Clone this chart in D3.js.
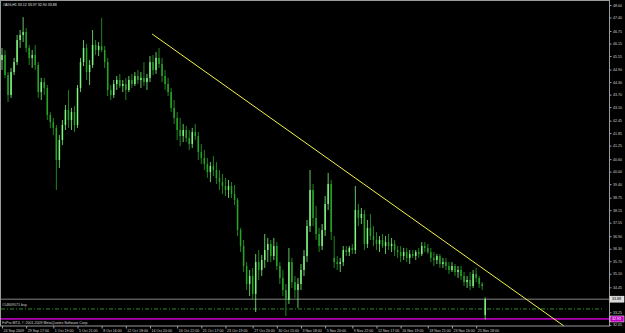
<!DOCTYPE html>
<html>
<head>
<meta charset="utf-8">
<script src="https://cdn.jsdelivr.net/npm/d3@7"></script>
<style>
html, body { margin: 0; padding: 0; background: #000; }
svg { display: block; }
text { font-family: "Liberation Sans", Arial, sans-serif; }
</style>
</head>
<body>
<div id="chart"></div>
<script>
// bars (one per slot)
var openP = [45.36,45.60,44.64,43.68,44.78,45.26,46.32,46.56,46.70,45.94,
45.46,45.60,45.12,43.82,44.30,44.02,42.72,42.38,42.10,40.56,
41.52,42.24,42.96,42.48,42.86,42.24,44.02,45.26,45.94,44.78,
45.12,46.08,45.84,46.03,45.84,45.26,43.92,43.68,44.21,44.40,
44.11,44.21,43.92,44.40,44.21,44.59,44.40,44.50,44.30,44.50,
45.26,44.88,45.46,45.17,44.59,44.21,43.82,43.06,42.58,42.00,
41.71,42.00,41.62,41.33,41.90,41.71,40.94,40.66,40.37,39.98,
40.27,40.08,39.70,39.50,39.31,39.12,39.31,38.93,38.64,37.20,
36.43,35.47,34.61,34.99,34.13,35.66,35.28,35.76,36.24,36.53,
35.95,36.43,35.47,34.90,34.32,33.84,35.66,34.70,34.32,34.61,
35.28,35.95,37.39,39.12,37.78,37.01,36.43,37.20,38.45,39.41,
35.86,35.66,35.57,35.66,36.24,36.14,36.34,36.24,38.16,37.78,
37.97,36.53,37.30,36.91,36.72,36.53,36.72,36.43,36.62,36.43,
36.53,36.24,36.14,35.95,36.14,35.86,36.05,35.95,36.14,36.05,
36.43,36.34,36.14,35.86,35.76,35.95,35.57,35.66,35.47,35.28,
35.47,35.18,35.28,34.99,34.70,34.80,34.51,35.09,34.90,34.61,
33.12];
var highP = [45.94,45.84,44.78,44.98,45.46,46.56,46.80,47.42,46.90,46.08,
45.84,46.08,45.26,44.50,44.50,44.16,42.86,42.58,42.24,41.76,
42.48,43.20,43.92,43.06,43.15,44.16,45.46,46.32,46.13,45.36,
46.80,46.32,46.22,47.38,46.03,45.46,44.16,44.40,44.59,44.69,
44.40,44.50,44.59,44.69,44.78,44.88,44.78,45.26,44.69,45.55,
45.60,45.74,45.94,45.46,44.88,44.50,44.02,43.44,42.86,42.58,
42.29,42.19,42.00,42.10,42.29,41.90,41.33,41.04,40.66,40.46,
40.75,40.46,40.08,39.89,39.70,39.60,39.50,39.36,38.74,37.30,
36.72,35.66,35.28,35.38,36.05,36.24,36.00,37.01,36.82,36.72,
36.82,36.62,35.66,35.28,34.61,36.34,35.86,34.99,34.90,35.57,
36.24,37.68,40.08,39.41,38.35,37.30,37.49,38.83,39.94,39.60,
36.91,35.95,35.86,36.43,36.43,36.43,36.53,39.31,38.45,38.26,
38.16,37.68,37.97,37.39,37.10,36.91,37.01,36.91,37.01,36.82,
36.72,36.43,36.43,36.34,36.34,36.24,36.24,36.24,36.34,36.62,
36.62,36.53,36.34,36.14,36.05,36.05,35.86,35.86,35.66,35.66,
35.57,35.47,35.47,35.18,34.99,35.18,35.28,35.38,34.99,34.70,
33.97];
var lowP = [44.88,44.50,43.34,43.54,44.64,45.12,45.94,46.22,45.74,45.12,
44.98,44.88,43.54,43.44,43.68,42.48,42.10,41.76,39.12,40.18,
41.28,42.00,42.10,42.00,41.90,42.10,43.82,45.07,44.40,44.16,
44.98,45.60,45.55,45.74,44.98,43.63,43.44,43.54,43.92,44.02,
43.82,43.44,43.82,44.02,44.11,44.21,44.02,44.11,43.92,44.30,
44.64,44.69,44.98,44.30,43.92,43.63,42.86,42.29,41.52,41.23,
41.42,41.42,41.04,41.14,41.52,40.56,40.37,40.08,39.70,39.50,
39.79,39.41,39.12,38.93,38.83,38.74,38.74,38.40,36.91,36.14,
35.18,34.32,34.03,33.84,33.26,34.80,34.99,35.38,35.66,35.66,
35.76,35.28,34.61,34.03,33.07,33.65,34.42,33.94,33.46,34.32,
34.99,35.66,37.10,37.39,36.72,36.14,36.24,36.91,38.16,36.72,
35.38,35.28,35.18,35.47,35.95,35.95,36.05,36.05,37.39,37.49,
36.24,36.34,36.72,36.43,36.24,36.14,36.34,36.05,36.24,36.14,
35.95,35.86,35.66,35.76,35.66,35.57,35.86,35.76,35.86,35.95,
36.14,36.05,35.66,35.47,35.57,35.38,35.38,35.28,35.09,35.18,
34.99,34.90,34.80,34.51,34.42,34.32,34.42,34.70,34.42,34.32,
32.90];
var closeP = [45.60,44.64,43.68,44.78,45.26,46.32,46.56,46.70,45.94,45.46,
45.60,45.12,43.82,44.30,44.02,42.72,42.38,42.10,40.56,41.52,
42.24,42.96,42.48,42.86,42.24,44.02,45.26,45.94,44.78,45.12,
46.08,45.84,46.03,45.84,45.26,43.92,43.68,44.21,44.40,44.11,
44.21,43.92,44.40,44.21,44.59,44.40,44.50,44.30,44.50,45.26,
44.88,45.46,45.17,44.59,44.21,43.82,43.06,42.58,42.00,41.71,
42.00,41.62,41.33,41.90,41.71,40.94,40.66,40.37,39.98,40.27,
40.08,39.70,39.50,39.31,39.12,39.31,38.93,38.64,37.20,36.43,
35.47,34.61,34.99,34.13,35.66,35.28,35.76,36.24,36.53,35.95,
36.43,35.47,34.90,34.32,33.84,35.66,34.70,34.32,34.61,35.28,
35.95,37.39,39.12,37.78,37.01,36.43,37.20,38.45,39.41,37.10,
35.66,35.57,35.66,36.24,36.14,36.34,36.24,38.16,37.78,37.97,
36.53,37.30,36.91,36.72,36.53,36.72,36.43,36.62,36.43,36.53,
36.24,36.14,35.95,36.14,35.86,36.05,35.95,36.14,36.05,36.43,
36.34,36.14,35.86,35.76,35.95,35.57,35.66,35.47,35.28,35.47,
35.18,35.28,34.99,34.70,34.80,34.51,35.09,34.90,34.61,34.51,
33.88];

// axis labels
var priceTicks = [48.00,47.40,46.75,46.15,45.55,44.90,44.30,43.70,43.10,42.45,41.85,41.25,40.60,
  40.00,39.40,38.75,38.15,37.55,36.90,36.30,35.70,35.10,34.45,33.85,33.25,32.65];
var timeTickIndex = [0,8,17,25,33,41,49,58,66,74,83,91,99,107,116,124,132,141,149,157];
var timeLabels = ["24 Sep 2009","29 Sep 17:00","1 Oct 19:00","5 Oct 21:00","8 Oct 16:00","12 Oct 18:00",
  "14 Oct 20:00","16 Oct 22:00","21 Oct 17:00","23 Oct 19:00","27 Oct 20:00","30 Oct 15:00",
  "3 Nov 18:00","5 Nov 20:00","9 Nov 22:00","12 Nov 17:00","16 Nov 19:00","18 Nov 21:00",
  "23 Nov 16:00","25 Nov 18:00"];

// levels and the trend line
var bidPrice = 33.88;
var orderPrice = 33.41;
var stopPrice = 32.93;
var trendIndex = [49.7, 186.1];
var trendPrice = [46.61, 32.59];

var titleText = "#AIG,H1  33.12 33.97 32.90 33.88";
var orderText = "#14809571 buy";
var copyText = "FxPro MT4, \u00a9 2001-2009 MetaQuotes Software Corp.";

var width = 625, height = 333;
var plotRight = 609.5, plotBottom = 326;

var svg = d3.select("#chart").append("svg").attr("width", width).attr("height", height);
svg.append("rect").attr("width", width).attr("height", height).attr("fill", "#000");

var xScale = d3.scaleLinear().domain([0, 200]).range([2, 606]);
var yScale = d3.scaleLinear().domain([33.25, 48.00]).range([312.3, 5]);

svg.append("defs").append("clipPath").attr("id", "plot")
  .append("rect").attr("x", 1).attr("y", 1).attr("width", plotRight - 1).attr("height", plotBottom - 1);

var plot = svg.append("g").attr("clip-path", "url(#plot)");

// frame
svg.append("rect")
  .attr("x", 0.5).attr("y", 0.5)
  .attr("width", plotRight - 0.5).attr("height", plotBottom - 0.5)
  .attr("fill", "none").attr("stroke", "#9a9a9a").attr("stroke-width", 1);

// horizontal levels
plot.append("line")
  .attr("x1", 1).attr("x2", plotRight)
  .attr("y1", yScale(bidPrice)).attr("y2", yScale(bidPrice))
  .attr("stroke", "#a8a8a8").attr("stroke-width", 0.8);

plot.append("line")
  .attr("x1", 1).attr("x2", 604)
  .attr("y1", yScale(orderPrice)).attr("y2", yScale(orderPrice))
  .attr("stroke", "#2fa02f").attr("stroke-width", 0.9)
  .attr("stroke-dasharray", "4,2,1,2");

plot.append("line")
  .attr("x1", 1).attr("x2", plotRight)
  .attr("y1", yScale(stopPrice)).attr("y2", yScale(stopPrice))
  .attr("stroke", "#b000b0").attr("stroke-width", 1.8);

// candles
var bars = d3.range(closeP.length).map(function(i) {
  return { i: i, o: openP[i], h: highP[i], l: lowP[i], c: closeP[i] };
});

function barColor(d) { return d.c >= d.o ? "#7ef57e" : "#26a626"; }

plot.append("g").selectAll("line")
  .data(bars)
  .enter()
  .append("line")
  .attr("x1", function(d) { return xScale(d.i); })
  .attr("x2", function(d) { return xScale(d.i); })
  .attr("y1", function(d) { return yScale(d.h); })
  .attr("y2", function(d) { return yScale(d.l); })
  .attr("stroke", barColor)
  .attr("stroke-width", 0.8);

plot.append("g").selectAll("rect")
  .data(bars)
  .enter()
  .append("rect")
  .attr("x", function(d) { return xScale(d.i) - 0.75; })
  .attr("width", 1.5)
  .attr("y", function(d) { return yScale(Math.max(d.o, d.c)); })
  .attr("height", function(d) { return Math.max(0.8, Math.abs(yScale(d.o) - yScale(d.c))); })
  .attr("fill", barColor);

// trend line
var trend = d3.line()
  .x(function(d) { return xScale(d[0]); })
  .y(function(d) { return yScale(d[1]); });

plot.append("path")
  .datum(d3.zip(trendIndex, trendPrice))
  .attr("d", trend)
  .attr("fill", "none")
  .attr("stroke", "#f2f24a")
  .attr("stroke-width", 1);

// texts in the plot
plot.append("text").attr("x", 3).attr("y", 5.6)
  .attr("fill", "#e0e0e0").style("font-size", "3.6px").text(titleText);
plot.append("text").attr("x", 2).attr("y", yScale(orderPrice) - 2.6)
  .attr("fill", "#d0d0d0").style("font-size", "3.6px").text(orderText);
plot.append("text").attr("x", 2).attr("y", 324.4)
  .attr("fill", "#d8d8d8").style("font-size", "3.6px").text(copyText);

// price axis
var yAxis = svg.append("g")
  .attr("transform", "translate(" + plotRight + ",0)")
  .call(d3.axisRight(yScale).tickValues(priceTicks).tickFormat(d3.format(".2f"))
    .tickSize(2).tickSizeOuter(0).tickPadding(1.5));
yAxis.select(".domain").remove();
yAxis.selectAll(".tick line").attr("stroke", "#a0a0a0");
yAxis.selectAll("text").attr("fill", "#d0d0d0").style("font-size", "3.6px")
  .style("font-family", "Liberation Sans, Arial, sans-serif");

// price boxes on the axis
function priceBox(p, fill, color) {
  var g = svg.append("g");
  g.append("rect")
    .attr("x", plotRight + 0.5).attr("y", yScale(p) - 3)
    .attr("width", 14).attr("height", 6)
    .attr("fill", fill).attr("stroke", "#ffffff").attr("stroke-width", 0.5);
  g.append("text")
    .attr("x", plotRight + 2.5).attr("y", yScale(p) + 1.3)
    .attr("fill", color).style("font-size", "3.6px")
    .text(d3.format(".2f")(p));
}
priceBox(bidPrice, "#d8d8d8", "#000");
priceBox(stopPrice, "#c000c0", "#fff");

// time axis
var xAxis = svg.append("g")
  .attr("transform", "translate(0," + plotBottom + ")")
  .call(d3.axisBottom(xScale).tickValues(timeTickIndex)
    .tickFormat(function(d, i) { return timeLabels[i]; })
    .tickSize(2.5).tickSizeOuter(0).tickPadding(0.5));
xAxis.select(".domain").remove();
xAxis.selectAll(".tick line").attr("stroke", "#a0a0a0");
xAxis.selectAll("text")
  .attr("text-anchor", "start").attr("x", 1)
  .attr("fill", "#d0d0d0").style("font-size", "3.6px")
  .style("font-family", "Liberation Sans, Arial, sans-serif");
</script>
</body>
</html>
